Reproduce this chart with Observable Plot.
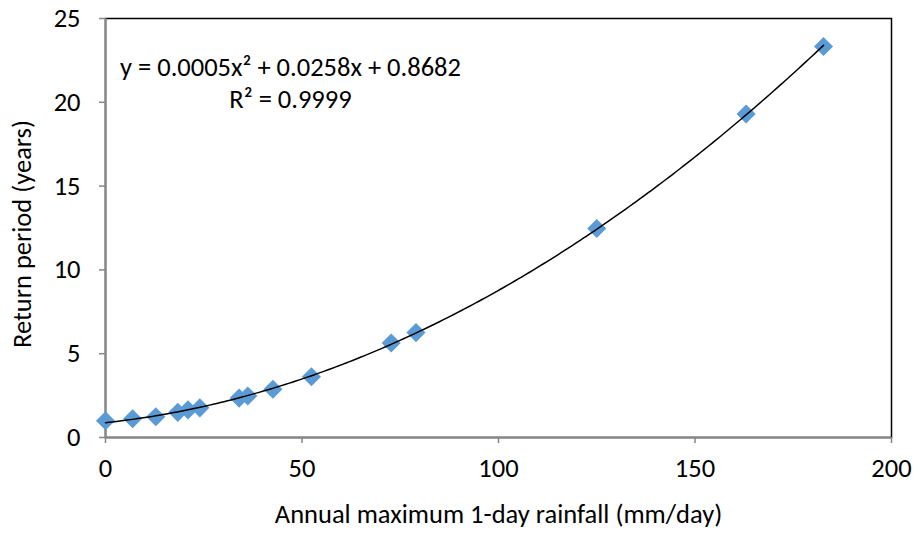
<!DOCTYPE html>
<html>
<head>
<meta charset="utf-8">
<script src="https://cdn.jsdelivr.net/npm/d3@7"></script>
<script src="https://cdn.jsdelivr.net/npm/@observablehq/plot@0.6"></script>
<style>
  html, body { margin: 0; padding: 0; background: #fff; }
  #chart svg { display: block; }
</style>
</head>
<body>
<div id="chart"></div>
<script>
// Data
const rainfall = [0, 6.9, 12.8, 18.4, 21, 24, 34, 36.2, 42.6, 52.4, 72.7, 79, 125, 163, 182.7];
const returnPeriod = [1.0, 1.12, 1.24, 1.5, 1.65, 1.77, 2.35, 2.48, 2.88, 3.62, 5.64, 6.26, 12.47, 19.3, 23.33];
const xTicks = [0, 50, 100, 150, 200];
const yTicks = [0, 5, 10, 15, 20, 25];
const equationText = "y = 0.0005x² + 0.0258x + 0.8682";
const r2Text = "R² = 0.9999";
const xLabel = "Annual maximum 1-day rainfall (mm/day)";
const yLabel = "Return period (years)";

const points = rainfall.map((x, i) => ({x, y: returnPeriod[i]}));

// Least-squares quadratic trendline fitted to the data
function quadFit(xs, ys) {
  let S = [0,0,0,0,0], T = [0,0,0];
  xs.forEach((x, i) => {
    for (let k = 0; k < 5; k++) S[k] += x ** k;
    for (let k = 0; k < 3; k++) T[k] += ys[i] * x ** k;
  });
  const A = [[S[0],S[1],S[2],T[0]],[S[1],S[2],S[3],T[1]],[S[2],S[3],S[4],T[2]]];
  for (let i = 0; i < 3; i++) {
    let p = i;
    for (let r = i+1; r < 3; r++) if (Math.abs(A[r][i]) > Math.abs(A[p][i])) p = r;
    [A[i], A[p]] = [A[p], A[i]];
    for (let r = 0; r < 3; r++) if (r !== i) {
      const f = A[r][i] / A[i][i];
      for (let c = i; c < 4; c++) A[r][c] -= f * A[i][c];
    }
  }
  return [A[0][3]/A[0][0], A[1][3]/A[1][1], A[2][3]/A[2][2]];
}
const [c0, c1, c2] = quadFit(rainfall, returnPeriod);
const xmax = d3.max(rainfall);
const trend = d3.range(0, 201).map(i => {
  const x = xmax * i / 200;
  return {x, y: c0 + c1 * x + c2 * x * x};
});

const font = "Carlito, 'Liberation Sans Narrow', 'Open Sans', sans-serif";
const gray = "#868686";
const fs = 26.5;

const chart = Plot.plot({
  width: 916,
  height: 533,
  marginLeft: 105,
  marginRight: 25,
  marginTop: 18,
  marginBottom: 96,
  style: {fontFamily: font, fontSize: fs + "px", color: "#000", background: "#fff"},
  x: {domain: [0, 200]},
  y: {domain: [0, 25]},
  marks: [
    Plot.frame({stroke: "#000", strokeWidth: 1.5}),
    Plot.ruleX([0], {stroke: gray, strokeWidth: 2}),
    Plot.ruleY([0], {stroke: gray, strokeWidth: 2}),
    Plot.axisX({ticks: xTicks, tickSize: 6, tickPadding: 15, stroke: gray, strokeWidth: 1.5, fontSize: fs, label: null}),
    Plot.axisY({ticks: yTicks, tickSize: 6, tickPadding: 19, stroke: gray, strokeWidth: 1.5, fontSize: fs, label: null}),
    Plot.dot(points, {x: "x", y: "y", symbol: "diamond2", r: 8.6, fill: "#5B9BD5", stroke: "none"}),
    Plot.line(trend, {x: "x", y: "y", stroke: "#000", strokeWidth: 1.5, curve: "linear"}),
    Plot.text([equationText], {frameAnchor: "top-left", dx: 185, dy: 49, textAnchor: "middle", lineAnchor: "middle", fontSize: fs, fill: "#000"}),
    Plot.text([r2Text], {frameAnchor: "top-left", dx: 185, dy: 81, textAnchor: "middle", lineAnchor: "middle", fontSize: fs, fill: "#000"}),
    Plot.text([xLabel], {frameAnchor: "bottom", dy: 77, lineAnchor: "middle", fontSize: fs, fill: "#000"}),
    Plot.text([yLabel], {frameAnchor: "left", dx: -83, dy: 6, rotate: -90, textAnchor: "middle", lineAnchor: "middle", fontSize: fs, fill: "#000"})
  ]
});
document.getElementById("chart").appendChild(chart);
</script>
</body>
</html>
